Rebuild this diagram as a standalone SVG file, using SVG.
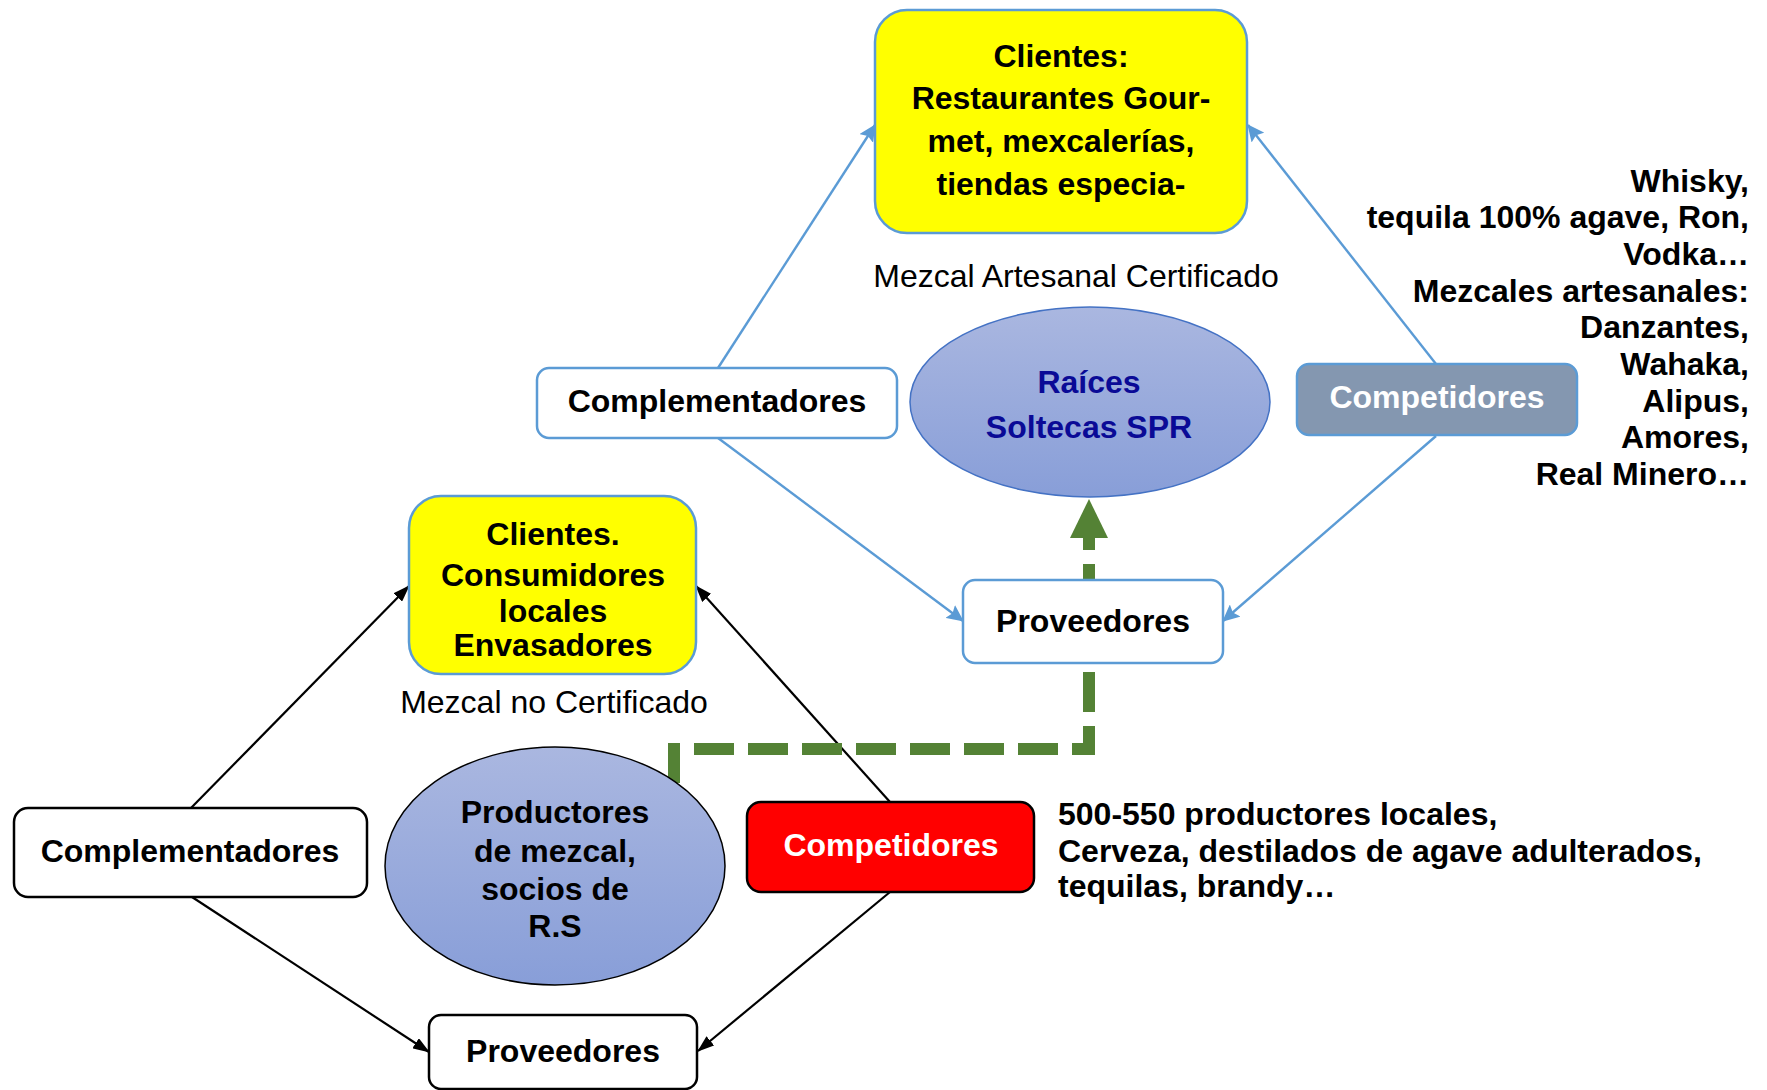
<svg xmlns="http://www.w3.org/2000/svg" width="1767" height="1090" viewBox="0 0 1767 1090">
<style>
text{font-family:"Liberation Sans",Arial,sans-serif;}
.b{font-weight:bold;font-size:32px;fill:#000;}
.n{font-size:32px;fill:#000;}
.c{text-anchor:middle;}
.blue{stroke:#5B9BD5;stroke-width:2.4;fill:none;}
.blk{stroke:#000;stroke-width:2.2;fill:none;}
</style>
<defs>
<linearGradient id="g" x1="0" y1="0" x2="0" y2="1">
<stop offset="0" stop-color="#AAB7E0"/>
<stop offset="1" stop-color="#889ED8"/>
</linearGradient>
<marker id="ab" markerUnits="userSpaceOnUse" markerWidth="17" markerHeight="16" refX="16" refY="8" orient="auto">
<path d="M0,0 L17,8 L0,16 L3,8 z" fill="#5B9BD5"/>
</marker>
<marker id="ak" markerUnits="userSpaceOnUse" markerWidth="17" markerHeight="12" refX="16" refY="6" orient="auto">
<path d="M0,0 L17,6 L0,12 z" fill="#000"/>
</marker>
</defs>

<g id="connectors">
<line class="blue" x1="718" y1="368" x2="875" y2="125" marker-end="url(#ab)"/>
<line class="blue" x1="1436" y1="364" x2="1248" y2="125" marker-end="url(#ab)"/>
<line class="blue" x1="718" y1="438" x2="963" y2="621" marker-end="url(#ab)"/>
<line class="blue" x1="1436" y1="436" x2="1223" y2="621" marker-end="url(#ab)"/>
<line class="blk" x1="191" y1="808" x2="409" y2="586" marker-end="url(#ak)"/>
<line class="blk" x1="890" y1="802" x2="696" y2="586" marker-end="url(#ak)"/>
<line class="blk" x1="192" y1="897" x2="429" y2="1052" marker-end="url(#ak)"/>
<line class="blk" x1="890" y1="892" x2="698" y2="1051" marker-end="url(#ak)"/>
<path d="M674,783 V749 H1089 V536" fill="none" stroke="#548235" stroke-width="12" stroke-dasharray="40 14"/>
<path d="M1089,499 L1108,538 L1070,538 z" fill="#548235"/>
</g>

<g id="clientes-top">
<rect x="875" y="10" width="372" height="223" rx="32" fill="#FFFF00" stroke="#5B9BD5" stroke-width="2.5"/>
<text class="b c" x="1061" y="67">Clientes:</text>
<text class="b c" x="1061" y="109">Restaurantes Gour-</text>
<text class="b c" x="1061" y="152">met, mexcalerías,</text>
<text class="b c" x="1061" y="195">tiendas especia-</text>
</g>
<text id="label-certificado" class="n c" x="1076" y="287">Mezcal Artesanal Certificado</text>

<g id="complementadores-top">
<rect x="537" y="368" width="360" height="70" rx="12" fill="#fff" stroke="#5B9BD5" stroke-width="2.5"/>
<text class="b c" x="717" y="412">Complementadores</text>
</g>

<g id="raices">
<ellipse cx="1090" cy="402" rx="180" ry="95" fill="url(#g)" stroke="#4472C4" stroke-width="1.5"/>
<text class="b c" x="1089" y="393" style="fill:#0A0A96">Raíces</text>
<text class="b c" x="1089" y="438" style="fill:#0A0A96">Soltecas SPR</text>
</g>

<g id="competidores-top">
<rect x="1297" y="364" width="280" height="71" rx="12" fill="#8497B0" stroke="#5B9BD5" stroke-width="2.5"/>
<text class="b c" x="1437" y="408" style="fill:#fff">Competidores</text>
</g>

<g id="competidores-top-text" style="text-anchor:end">
<text class="b" x="1749" y="192">Whisky,</text>
<text class="b" x="1749" y="228">tequila 100% agave, Ron,</text>
<text class="b" x="1749" y="265">Vodka…</text>
<text class="b" x="1749" y="302">Mezcales artesanales:</text>
<text class="b" x="1749" y="338">Danzantes,</text>
<text class="b" x="1749" y="375">Wahaka,</text>
<text class="b" x="1749" y="412">Alipus,</text>
<text class="b" x="1749" y="448">Amores,</text>
<text class="b" x="1749" y="485">Real Minero…</text>
</g>

<g id="proveedores-top">
<rect x="963" y="580" width="260" height="83" rx="12" fill="#fff" stroke="#5B9BD5" stroke-width="2.5"/>
<text class="b c" x="1093" y="632">Proveedores</text>
</g>

<g id="clientes-bottom">
<rect x="409" y="496" width="287" height="178" rx="32" fill="#FFFF00" stroke="#5B9BD5" stroke-width="2.5"/>
<text class="b c" x="553" y="545">Clientes.</text>
<text class="b c" x="553" y="586">Consumidores</text>
<text class="b c" x="553" y="622">locales</text>
<text class="b c" x="553" y="656">Envasadores</text>
</g>
<text id="label-no-certificado" class="n c" x="554" y="713">Mezcal no Certificado</text>

<g id="productores">
<ellipse cx="555" cy="866" rx="170" ry="119" fill="url(#g)" stroke="#000" stroke-width="1.5"/>
<text class="b c" x="555" y="823">Productores</text>
<text class="b c" x="555" y="862">de mezcal,</text>
<text class="b c" x="555" y="900">socios de</text>
<text class="b c" x="555" y="937">R.S</text>
</g>

<g id="complementadores-bottom">
<rect x="14" y="808" width="353" height="89" rx="14" fill="#fff" stroke="#000" stroke-width="2.5"/>
<text class="b c" x="190" y="862">Complementadores</text>
</g>

<g id="competidores-bottom">
<rect x="747" y="802" width="287" height="90" rx="14" fill="#FF0000" stroke="#000" stroke-width="2.5"/>
<text class="b c" x="891" y="856" style="fill:#fff">Competidores</text>
</g>

<g id="competidores-bottom-text">
<text class="b" x="1058" y="825">500-550 productores locales,</text>
<text class="b" x="1058" y="862">Cerveza, destilados de agave adulterados,</text>
<text class="b" x="1058" y="897">tequilas, brandy…</text>
</g>

<g id="proveedores-bottom">
<rect x="429" y="1015" width="268" height="74" rx="12" fill="#fff" stroke="#000" stroke-width="2.5"/>
<text class="b c" x="563" y="1062">Proveedores</text>
</g>
</svg>
